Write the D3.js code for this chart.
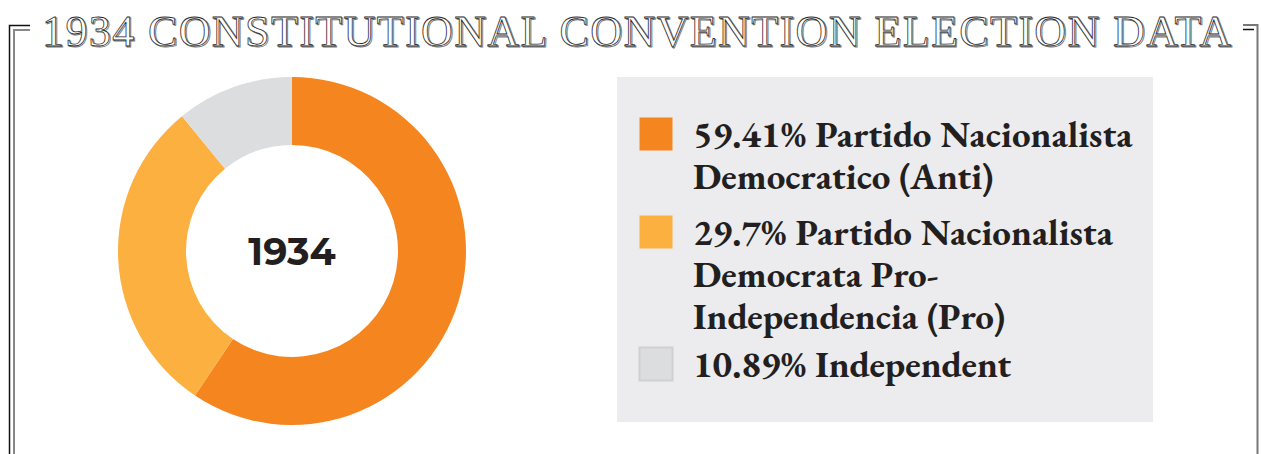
<!DOCTYPE html>
<html>
<head>
<meta charset="utf-8">
<script src="https://cdnjs.cloudflare.com/ajax/libs/d3/7.8.5/d3.min.js"></script>
<style>
  html, body { margin: 0; padding: 0; background: #fff; }
  svg { display: block; }
</style>
</head>
<body>
<div id="chart"></div>
<script>
// data
var title = "1934 CONSTITUTIONAL CONVENTION ELECTION DATA";
var centerLabel = "1934";
var parties = ["Partido Nacionalista Democratico (Anti)", "Partido Nacionalista Democrata Pro-Independencia (Pro)", "Independent"];
var shares = [59.41, 29.7, 10.89];
var legendLines = [
  ["59.41% Partido Nacionalista", "Democratico (Anti)"],
  ["29.7% Partido Nacionalista", "Democrata Pro-", "Independencia (Pro)"],
  ["10.89% Independent"]
];
var colors = ["#F5851F", "#FBB040", "#DCDDDF"];

var width = 1261, height = 454;
var cx = 292, cy = 251, rOuter = 174, rInner = 106;

var svg = d3.select("#chart").append("svg")
  .attr("width", width).attr("height", height);

// frame
var frame = svg.append("g").attr("fill", "none");
frame.append("path").attr("d", "M9.5,454 V25.5 H30").attr("stroke", "#111").attr("stroke-width", 1.5);
frame.append("path").attr("d", "M14,454 V30 H30").attr("stroke", "#888").attr("stroke-width", 2);
frame.append("path").attr("d", "M1243,25 H1257.5 V454").attr("stroke", "#777").attr("stroke-width", 2);
frame.append("path").attr("d", "M1243,29.5 H1254").attr("stroke", "#111").attr("stroke-width", 1.5);

// title (engraved look)
var tg = svg.append("g")
  .attr("font-family", "'Liberation Serif', 'DejaVu Serif', serif")
  .attr("font-weight", "normal")
  .attr("font-size", 44);
tg.append("text").attr("x", 43.2).attr("y", 47.2).text(title)
  .attr("textLength", 1189).attr("lengthAdjust", "spacing")
  .attr("fill", "none").attr("stroke", "#777").attr("stroke-width", 0.9);
tg.append("text").attr("x", 42).attr("y", 46).text(title)
  .attr("textLength", 1189).attr("lengthAdjust", "spacing")
  .attr("fill", "#fff").attr("stroke", "#2a2a2a").attr("stroke-width", 0.8);

// donut
var pie = d3.pie().sort(null).value(function(d){ return d; });
var arc = d3.arc().innerRadius(rInner).outerRadius(rOuter);
var dg = svg.append("g").attr("transform", "translate(" + cx + "," + cy + ")");
dg.selectAll("path").data(pie(shares)).enter().append("path")
  .attr("d", arc)
  .attr("fill", function(d, i){ return colors[i]; });

dg.append("text").text(centerLabel)
  .attr("text-anchor", "middle").attr("y", 14)
  .attr("font-family", "Montserrat, 'Noto Sans', 'DejaVu Sans', sans-serif")
  .attr("font-weight", "bold").attr("font-size", 38)
  .attr("fill", "#231F20");

// legend
var lx = 617, ly = 77, lw = 536, lh = 345;
svg.append("rect").attr("x", lx).attr("y", ly).attr("width", lw).attr("height", lh)
  .attr("fill", "#ECECEE");

var itemTops = [117, 215, 347];
var lineH = 42;
var lg = svg.append("g")
  .attr("font-family", "'EB Garamond', 'Liberation Serif', 'DejaVu Serif', serif")
  .attr("font-weight", "bold").attr("font-size", 37).attr("fill", "#231F20");

legendLines.forEach(function(lines, i){
  var top = itemTops[i];
  lg.append("rect").attr("x", 639.5).attr("y", top + 0.5).attr("width", 33).attr("height", 33)
    .attr("fill", colors[i])
    .attr("stroke", i === 2 ? "#CFD0D2" : "none").attr("stroke-width", 2);
  var t = lg.append("text").attr("y", top + 30);
  lines.forEach(function(s, j){
    t.append("tspan").attr("x", 693).attr("dy", j === 0 ? 0 : lineH).text(s);
  });
});
</script>
</body>
</html>
